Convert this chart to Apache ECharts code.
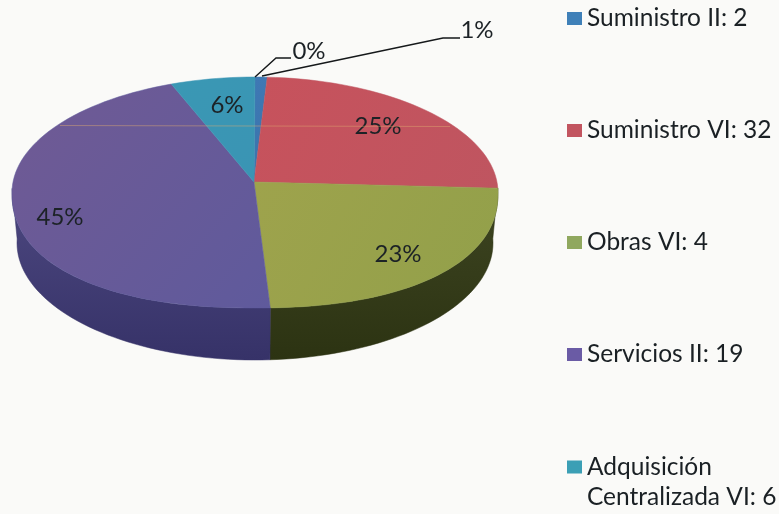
<!DOCTYPE html>
<html><head><meta charset="utf-8">
<style>html,body{margin:0;padding:0;background:#fafaf8}#c{width:779px;height:514px}</style>
<script src="https://cdn.jsdelivr.net/npm/echarts@6/dist/echarts.min.js"></script>
</head><body><div id="c"></div>
<script>
// Data
const categories = ['Suministro II: 2','Suministro VI: 32','Obras VI: 4','Servicios II: 19','Adquisición Centralizada VI: 6'];
const sliceShares = [0.8, 23.6, 24.6, 45.4, 5.6];
const sliceLabels = ['1%','25%','23%','45%','6%'];
const zeroLabel = '0%';

// Styling and layout
const FONT = 'Lato';
const topColors = [['#3f78b4','#3a74ac'],['#c7525c','#bf5560'],['#9ea34c','#92a04a'],['#705a94','#5f5a9c'],['#3a98b4','#3a94b4']];
const wallColors = [null,null,['#3e4522','#2c3312'],['#4d4880','#363268'],null];
const swatches = ['#3f80b8','#c25560','#90a85f','#6a5ba5','#3b9fb5'];
const apex = [254,182];
const topRim = {cx:255,cy:192.5,rx:243,ry:115.5,n:2.25};
const baseRim = {cx:255,cy:243,rx:238,ry:117,n:2};
const labelAt = [[477,30],[378,126],[398,254],[60,217],[227,105]];

function rim(e,deg){
  const a=deg*Math.PI/180,s=Math.sin(a),c=Math.cos(a);
  const y=c>=0?-e.ry*c:e.ry*Math.pow(1-Math.pow(Math.abs(s),e.n),1/e.n);
  return [e.cx+e.rx*s,e.cy+y];
}
function arc(e,a,b){const p=[];const n=Math.max(2,Math.ceil(Math.abs(b-a)/2));for(let i=0;i<=n;i++)p.push(rim(e,a+(b-a)*i/n));return p;}
function grad(c){return new echarts.graphic.LinearGradient(0,0,1,1,[{offset:0,color:c[0]},{offset:1,color:c[1]}]);}

let acc=0;
const starts=sliceShares.map(v=>{const s=acc;acc+=v;return s;});

function sliceSeries(i){
  return {
    type:'custom',name:categories[i],coordinateSystem:'none',silent:true,
    itemStyle:{color:swatches[i]},
    data:[[sliceShares[i]]],
    renderItem(params,api){
      const a0=starts[i]*3.6,a1=a0+api.value(0)*3.6;
      const kids=[];
      const w0=Math.max(a0,87.8),w1=Math.min(a1,272);
      if(wallColors[i]&&w1>w0){
        const pts=arc(topRim,w0,w1).concat(arc(baseRim,w1,w0));
        const g=new echarts.graphic.LinearGradient(0,0,0,1,[{offset:0,color:wallColors[i][0]},{offset:1,color:wallColors[i][1]}]);
        kids.push({type:'polygon',shape:{points:pts},style:{fill:g,stroke:wallColors[i][1],lineWidth:.5}});
      }
      const f=grad(topColors[i]);
      kids.push({type:'polygon',shape:{points:[apex].concat(arc(topRim,a0,a1))},style:{fill:f,stroke:topColors[i][1],lineWidth:.5}});
      kids.push({type:'text',style:{text:sliceLabels[i],x:labelAt[i][0],y:labelAt[i][1],align:'center',verticalAlign:'middle',fill:'#1c2226',font:'24px '+FONT},z2:5});
      return {type:'group',children:kids};
    }
  };
}

const legendData=categories.map((c,i)=>({name:c,itemStyle:{color:swatches[i]}}));
const legendBase={orient:'vertical',left:567,padding:0,itemWidth:15,itemHeight:13,icon:'rect',selectedMode:false};

const chart=echarts.init(document.getElementById('c'),null,{renderer:'canvas'});
chart.setOption({
  backgroundColor:'#fafaf8',animation:false,
  legend:[
    Object.assign({},legendBase,{top:6,itemGap:87,data:legendData.slice(0,4),
      textStyle:{fontFamily:FONT,fontSize:24.5,color:'#1a2024',lineHeight:25}}),
    Object.assign({},legendBase,{top:422,data:legendData.slice(4),
      formatter:n=>'\n'+n.replace('Adquisición ','Adquisición\n'),
      textStyle:{fontFamily:FONT,fontSize:24.5,color:'#1a2024',lineHeight:30}})
  ],
  graphic:[
    {type:'line',shape:{x1:60,y1:125.5,x2:450,y2:126.5},style:{stroke:'rgba(225,170,110,.45)',lineWidth:1},z:10},
    {type:'polyline',shape:{points:[[255,77],[276,58],[291,58]]},style:{stroke:'#15181a',fill:null,lineWidth:1.4},z:10},
    {type:'polyline',shape:{points:[[262,76],[443,38],[460,38]]},style:{stroke:'#15181a',fill:null,lineWidth:1.4},z:10},
    {type:'text',x:309,y:51,style:{text:zeroLabel,align:'center',verticalAlign:'middle',fill:'#1c2226',font:'24px '+FONT},z:10}
  ],
  series:categories.map((c,i)=>sliceSeries(i))
});
</script></body></html>
